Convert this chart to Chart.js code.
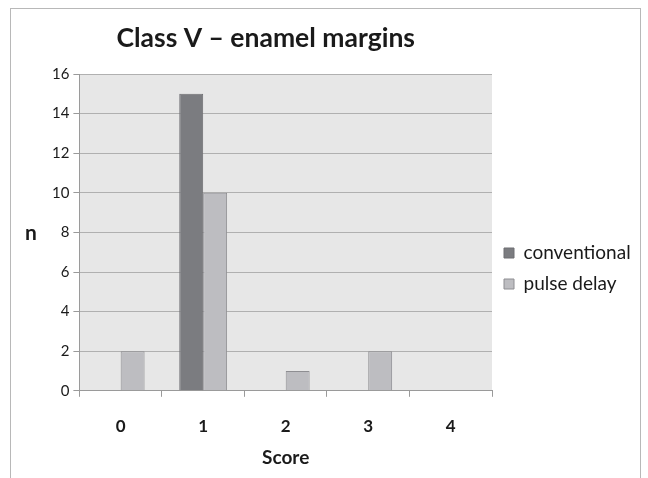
<!DOCTYPE html>
<html>
<head>
<meta charset="utf-8">
<script src="https://cdn.jsdelivr.net/npm/chart.js@4"></script>
<style>
  html, body { margin: 0; padding: 0; background: #fff; }
  #wrap { width: 648px; height: 478px; position: relative; }
</style>
</head>
<body>
<div id="wrap"><canvas id="scoreChart" width="648" height="478"></canvas></div>
<script>
// Data
const scores = ['0', '1', '2', '3', '4'];
const conventional = [0, 15, 0, 0, 0];
const pulseDelay = [2, 10, 1, 2, 0];
const chartTitle = 'Class V \u2013 enamel margins';
const yTitle = 'n';

const FONT = 'Lato, "Open Sans", sans-serif';

// grey plot background, outer frame, the title and the horizontal "n"
const framePlugin = {
    id: 'frame',
    beforeDraw(chart) {
        const c = chart.ctx, a = chart.chartArea;
        c.save();
        c.fillStyle = '#e7e7e7';
        c.fillRect(a.left, a.top, a.right - a.left, a.bottom - a.top);
        c.strokeStyle = '#b8b8b8';
        c.lineWidth = 1;
        c.strokeRect(10.5, 8.5, 630, 500);
        c.restore();
    },
    afterDraw(chart) {
        const c = chart.ctx, a = chart.chartArea;
        c.save();
        c.fillStyle = '#1a1a1a';
        c.textAlign = 'center';
        c.textBaseline = 'alphabetic';
        c.font = 'bold 26.5px ' + FONT;
        c.fillText(chartTitle, (a.left + a.right) / 2 - 20, 47);
        c.font = 'bold 21px ' + FONT;
        c.fillText(yTitle, 31, (a.top + a.bottom) / 2 + 8);
        c.restore();
    }
};

const ctx = document.getElementById('scoreChart').getContext('2d');
const scoreChart = new Chart(ctx, {
    type: 'bar',
    data: {
        labels: scores,
        datasets: [{
            label: 'conventional',
            data: conventional,
            backgroundColor: '#7b7c80',
            borderColor: '#6e6e72',
            borderWidth: 1
        }, {
            label: 'pulse delay',
            data: pulseDelay,
            backgroundColor: '#bdbdc1',
            borderColor: '#8e8e92',
            borderWidth: 1
        }]
    },
    options: {
        responsive: false,
        animation: false,
        layout: { padding: { top: 74, left: 48, right: 8, bottom: 15 } },
        datasets: { bar: { categoryPercentage: 0.58, barPercentage: 1.0 } },
        plugins: {
            legend: {
                position: 'right',
                align: 'center',
                labels: {
                    boxWidth: 10,
                    boxHeight: 10,
                    padding: 12,
                    color: '#1a1a1a',
                    font: { family: FONT, size: 19 }
                }
            },
            tooltip: { enabled: false }
        },
        scales: {
            x: {
                grid: {
                    display: true,
                    drawOnChartArea: false,
                    drawTicks: true,
                    tickLength: 6,
                    color: '#9a9a9a',
                    offset: true
                },
                border: { color: '#9a9a9a' },
                ticks: {
                    color: '#1a1a1a',
                    padding: 20,
                    font: { family: FONT, size: 17, weight: 'bold' }
                },
                title: {
                    display: true,
                    text: 'Score',
                    color: '#1a1a1a',
                    padding: { top: -11, bottom: -6 },
                    font: { family: FONT, size: 19, weight: 'bold' }
                }
            },
            y: {
                min: 0,
                max: 16,
                ticks: {
                    stepSize: 2,
                    color: '#1a1a1a',
                    padding: 4,
                    font: { family: FONT, size: 15 }
                },
                grid: {
                    color: '#b0b0b0',
                    tickLength: 6,
                    tickColor: '#9a9a9a'
                },
                border: { color: '#9a9a9a' }
            }
        }
    },
    plugins: [framePlugin]
});
</script>
</body>
</html>
